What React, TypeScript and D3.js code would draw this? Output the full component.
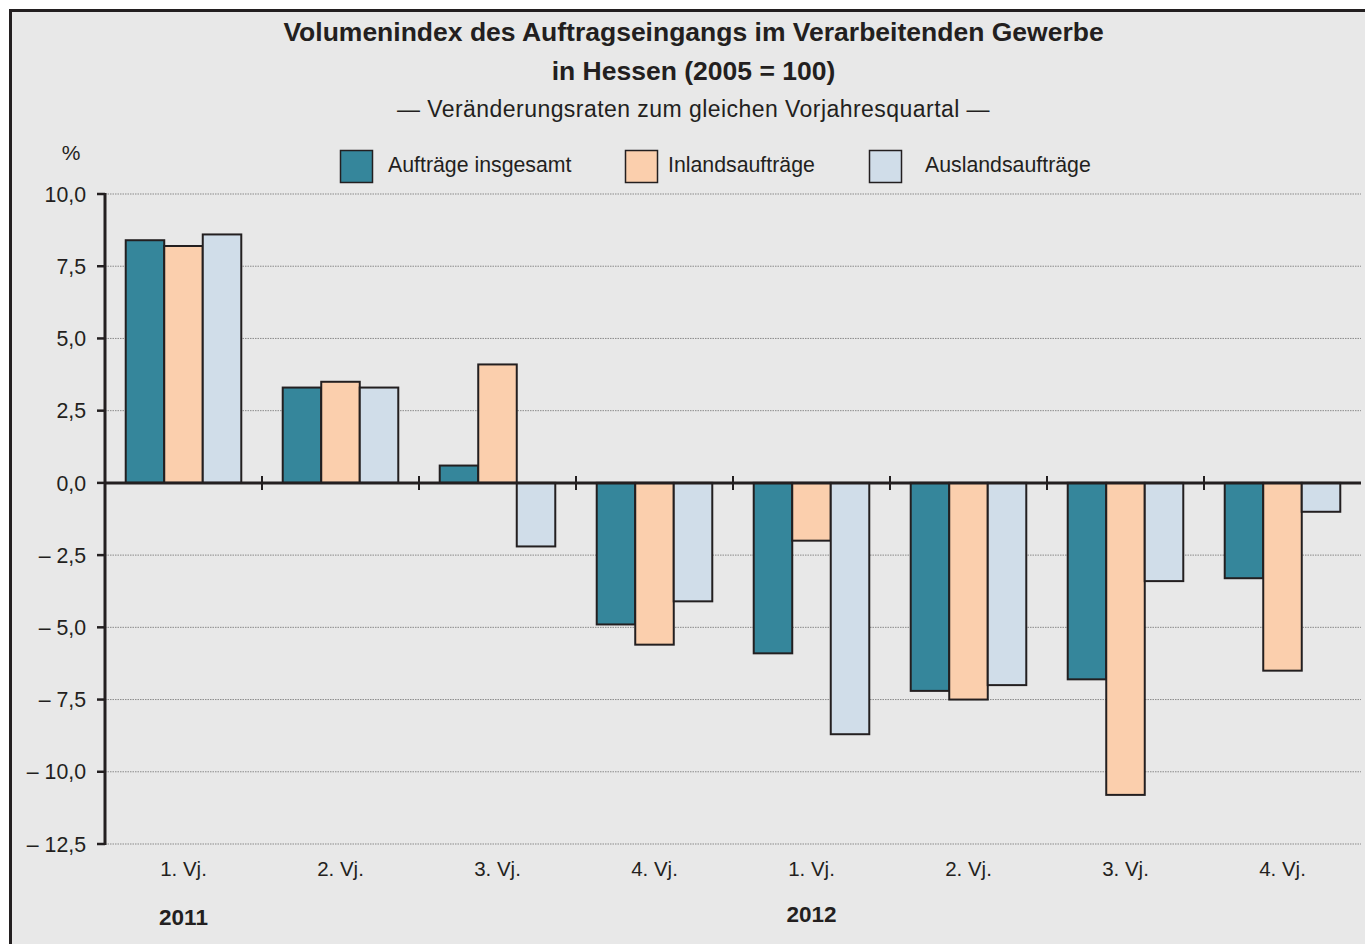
import React from "react";
import * as d3 from "d3";

const categories = ["1. Vj.", "2. Vj.", "3. Vj.", "4. Vj.", "1. Vj.", "2. Vj.", "3. Vj.", "4. Vj."];
const seriesNames = ["Aufträge insgesamt", "Inlandsaufträge", "Auslandsaufträge"];
const insgesamt = [8.4, 3.3, 0.6, -4.9, -5.9, -7.2, -6.8, -3.3];
const inland = [8.2, 3.5, 4.1, -5.6, -2.0, -7.5, -10.8, -6.5];
const ausland = [8.6, 3.3, -2.2, -4.1, -8.7, -7.0, -3.4, -1.0];
const yTicks = [10, 7.5, 5, 2.5, 0, -2.5, -5, -7.5, -10, -12.5];
const years = [
  { label: "2011", index: 0 },
  { label: "2012", index: 4 },
];
const colors = ["#35869b", "#fbcfad", "#d0dde9"];

const W = 1365;
const H = 944;
const FONT = "'Liberation Sans', Arial, Helvetica, sans-serif";
const INK = "#231f20";

function fmt(v: number) {
  const s = Math.abs(v).toFixed(1).replace(".", ",");
  return v < 0 ? "\u2013 " + s : s;
}

export default function App() {
  const left = 105;
  const right = 1361;
  const y = d3.scaleLinear().domain([-12.5, 10]).range([844, 194]);
  const x0 = d3
    .scaleBand<number>()
    .domain(categories.map((_, i) => i))
    .range([left, right])
    .paddingInner(0.264)
    .paddingOuter(0.132);
  const x1 = d3.scaleBand<number>().domain([0, 1, 2]).range([0, x0.bandwidth()]);
  const series = [insgesamt, inland, ausland];
  const step = x0.step();
  const boundaries = d3.range(1, categories.length).map((i) => left + i * step);

  const legendX = [340, 625, 869];
  const legendTextX = [388, 668, 925];

  return (
    <svg width={W} height={H} style={{ position: "absolute", left: 0, top: 0 }} fontFamily={FONT}>
      <rect x={0} y={0} width={W} height={H} fill="#ffffff" />
      <rect x={10.5} y={10.5} width={W + 20} height={H + 20} fill="#e8e8e8" stroke={INK} strokeWidth={3} />

      <text x={693.5} y={41} textAnchor="middle" fontSize={26.5} fontWeight="bold" fill={INK}>
        Volumenindex des Auftragseingangs im Verarbeitenden Gewerbe
      </text>
      <text x={693.5} y={80} textAnchor="middle" fontSize={26.5} fontWeight="bold" fill={INK}>
        in Hessen (2005 = 100)
      </text>
      <text x={693.5} y={117} textAnchor="middle" fontSize={23} letterSpacing={0.45} fill={INK}>
        — Veränderungsraten zum gleichen Vorjahresquartal —
      </text>

      <text x={71} y={160} textAnchor="middle" fontSize={21} fill={INK}>%</text>

      {seriesNames.map((n, i) => (
        <g key={n}>
          <rect x={legendX[i] + 0.5} y={150.5} width={32} height={32} fill={colors[i]} stroke={INK} strokeWidth={1.5} />
          <text x={legendTextX[i]} y={172} fontSize={21.3} fill={INK}>{n}</text>
        </g>
      ))}

      {yTicks.map((t) => (
        <g key={t}>
          {t !== 0 && (
            <line x1={left} x2={right} y1={y(t)} y2={y(t)} stroke="#8a8a8a" strokeWidth={1} strokeDasharray="1.5 1" />
          )}
          <line x1={97} x2={left} y1={y(t)} y2={y(t)} stroke={INK} strokeWidth={2.5} />
          <text x={86} y={y(t)} dy="0.36em" textAnchor="end" fontSize={21.3} fill={INK}>{fmt(t)}</text>
        </g>
      ))}

      {categories.map((c, i) => (
        <g key={i} transform={`translate(${x0(i)},0)`}>
          {series.map((s, j) => {
            const v = s[i];
            const y0 = y(0);
            const yv = y(v);
            return (
              <rect
                key={j}
                x={x1(j)!}
                y={Math.min(y0, yv)}
                width={x1.bandwidth()}
                height={Math.abs(yv - y0)}
                fill={colors[j]}
                stroke={INK}
                strokeWidth={2}
              />
            );
          })}
        </g>
      ))}

      <line x1={left} x2={right} y1={y(0)} y2={y(0)} stroke={INK} strokeWidth={3} />
      {boundaries.map((b) => (
        <line key={b} x1={b} x2={b} y1={y(0) - 7} y2={y(0) + 7} stroke={INK} strokeWidth={2} />
      ))}
      <line x1={left} x2={left} y1={y(10) - 1} y2={y(-12.5) + 1} stroke={INK} strokeWidth={3} />

      {categories.map((c, i) => (
        <text key={i} x={x0(i)! + x0.bandwidth() / 2} y={876} textAnchor="middle" fontSize={20.5} fill={INK}>
          {c}
        </text>
      ))}
      {years.map((yr) => (
        <text
          key={yr.label}
          x={x0(yr.index)! + x0.bandwidth() / 2}
          y={yr.index === 0 ? 925 : 922}
          textAnchor="middle"
          fontSize={22.5}
          fontWeight="bold"
          fill={INK}
        >
          {yr.label}
        </text>
      ))}
    </svg>
  );
}
